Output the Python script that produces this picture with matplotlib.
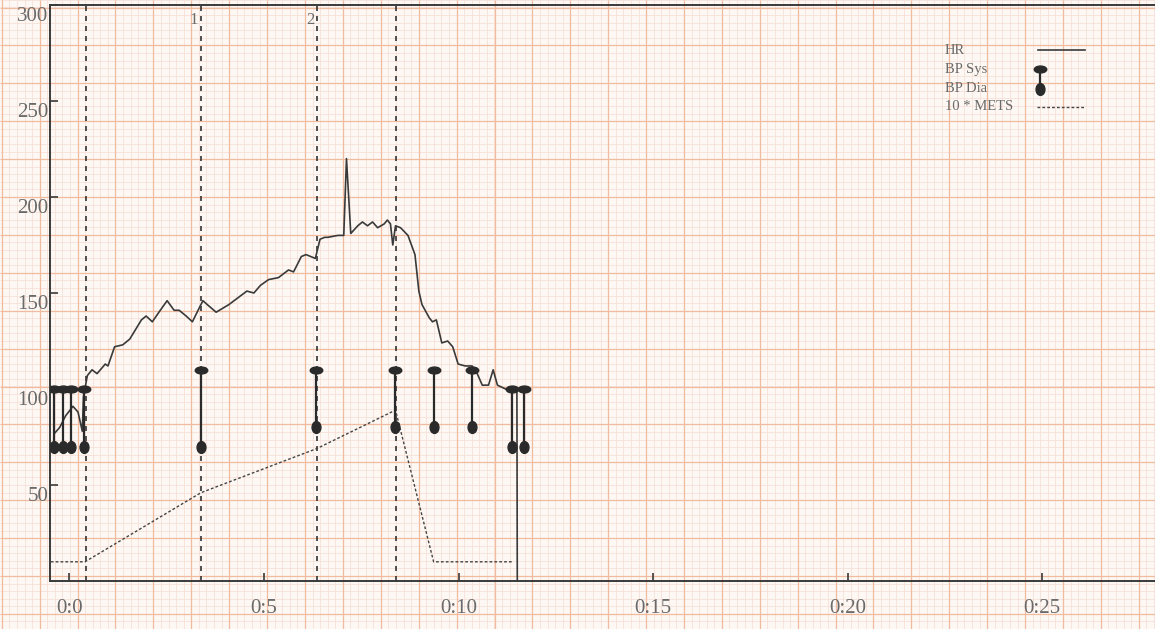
import numpy as np
import matplotlib
matplotlib.use("Agg")
import matplotlib.pyplot as plt
from matplotlib.path import Path
from matplotlib.transforms import Affine2D, ScaledTranslation

# ---------------- data (minutes, values) ----------------
hr_time = [-0.38, -0.25, -0.10, 0.09, 0.22, 0.33, 0.36, 0.46, 0.58, 0.71, 0.92, 0.99,
           1.16, 1.37, 1.55, 1.85, 1.97, 2.13, 2.30, 2.51, 2.69, 2.82, 3.00, 3.16,
           3.33, 3.43, 3.54, 3.77, 4.10, 4.56, 4.74, 4.91, 5.12, 5.37, 5.63, 5.76,
           5.96, 6.08, 6.32, 6.44, 6.56, 6.64, 6.90, 7.05, 7.12, 7.23, 7.41, 7.53,
           7.66, 7.79, 7.92, 8.09, 8.17, 8.25, 8.31, 8.38, 8.51, 8.70, 8.88, 8.98,
           9.06, 9.25, 9.33, 9.43, 9.57, 9.72, 9.85, 9.99, 10.17, 10.35, 10.48, 10.61,
           10.77, 10.89, 11.00, 11.21, 11.34, 11.50, 11.51]
hr_bpm = [77, 80, 86, 91, 88, 78, 96, 107, 110, 108, 113, 112,
          122, 123, 126, 136, 138, 135, 140, 146, 141, 141, 138, 135,
          142, 146, 144, 140, 144, 151, 150, 154, 157, 158, 162, 161,
          169, 170, 168, 178, 179, 179, 180, 180, 220, 181, 185, 187,
          185, 187, 184, 186, 188, 186, 175, 185, 184, 180, 170, 151,
          144, 137, 135, 136, 124, 125, 122, 113, 112, 112, 108, 102,
          102, 110, 102, 100, 99, 99, 0]

bp_time = [-0.40, -0.17, 0.04, 0.37, 3.38, 6.33, 8.36, 9.36, 10.34, 11.38, 11.69]
bp_sys = [100, 100, 100, 100, 110, 110, 110, 110, 110, 100, 100]
bp_dia = [70, 70, 70, 70, 70, 80, 80, 80, 80, 70, 70]

mets_time = [-0.48, 0.40, 3.38, 6.36, 8.38, 9.36, 11.37]
mets_x10 = [10, 10, 46, 69, 89, 10, 10]

stage_time = [0.42, 3.38, 6.36, 8.39]
stage_labels = ["", "1", "2", ""]

x_ticks = [0, 5, 10, 15, 20, 25]
x_tick_labels = ["0:0", "0:5", "0:10", "0:15", "0:20", "0:25"]
y_ticks = [50, 100, 150, 200, 250, 300]
y_tick_labels = ["50", "100", "150", "200", "250", "300"]
legend_labels = ["HR", "BP Sys", "BP Dia", "10 * METS"]

# ---------------- styling ----------------
W, H = 1155, 629
INK = "#333333"
TXT = "#6a6a6a"
SERIF = ["Liberation Serif", "DejaVu Serif"]

fig = plt.figure(figsize=(W / 100, H / 100), dpi=100)
fig.patch.set_facecolor("#fdf8f3")

# ECG paper background
bg = fig.add_axes([0, 0, 1, 1])
bg.set_xlim(0, W)
bg.set_ylim(H, 0)
bg.axis("off")
major = 37.9
minor = major / 5
xs_minor = np.arange(1.8 - major, W + major, minor)
ys_minor = np.arange(7.5 - major, H + major, minor)
bg.vlines(xs_minor, 0, H, color="#f6ded5", lw=0.55)
bg.hlines(ys_minor, 0, W, color="#f6ded5", lw=0.55)
xs_major = np.arange(1.8, W + major, major)
ys_major = np.arange(7.5, H + major, major)
bg.vlines(xs_major, 0, H, color="#f1bba0", lw=0.9)
bg.hlines(ys_major, 0, W, color="#f1bba0", lw=0.9)

# main axes
ax = fig.add_axes([50 / W, 1 - 581 / H, 1 - 50 / W, (581 - 5) / H])
ax.patch.set_alpha(0)
ax.set_xlim(-0.50, 27.9)
ax.set_ylim(0, 300)
for s in ["left", "top", "bottom"]:
    ax.spines[s].set_color("#3a3a3a")
    ax.spines[s].set_linewidth(1.4)
ax.spines["right"].set_visible(False)

ax.set_xticks(x_ticks)
ax.set_xticklabels(x_tick_labels)
ax.set_yticks(y_ticks)
ax.set_yticklabels(y_tick_labels)
ax.tick_params(axis="both", direction="in", length=6, width=1.2, color="#3a3a3a",
               labelcolor=TXT, labelsize=15)
ax.tick_params(axis="x", pad=13)
ax.tick_params(axis="y", pad=1)
off = ScaledTranslation(0, -9 / 100, fig.dpi_scale_trans)
for lab in ax.get_yticklabels() + ax.get_xticklabels():
    lab.set_fontfamily(SERIF)
for lab in ax.get_yticklabels():
    lab.set_transform(lab.get_transform() + off)

# stage markers
for t, lab in zip(stage_time, stage_labels):
    ax.axvline(t, color=INK, ls=(0, (3, 3)), lw=1.2, zorder=2)
    if lab:
        ax.annotate(lab, xy=(t, 300), xytext=(-2, -5), textcoords="offset points",
                    ha="right", va="top", fontsize=12, color=TXT, family=SERIF)

# METS
ax.plot(mets_time, mets_x10, color="#444444", ls=(0, (2, 1.5)), lw=1.0, zorder=3)

# HR
ax.plot(hr_time, hr_bpm, color="#3a3a3a", lw=1.2, zorder=4)

# BP
circ = Path.unit_circle()
sys_marker = Affine2D().scale(1.0, 0.55).transform_path(circ)
dia_marker = Affine2D().scale(0.75, 1.0).transform_path(circ)
ax.vlines(bp_time, bp_dia, bp_sys, color="#2a2a2a", lw=1.6, zorder=5)
ax.plot(bp_time, bp_sys, ls="none", marker=sys_marker, ms=9, color="#2a2a2a", zorder=6)
ax.plot(bp_time, bp_dia, ls="none", marker=dia_marker, ms=8.5, color="#2a2a2a", zorder=6)

# legend (manual, top right)
lg = fig.add_axes([0, 0, 1, 1])
lg.set_xlim(0, W)
lg.set_ylim(H, 0)
lg.axis("off")
ly = [50, 69, 89, 107]
for y, lab in zip(ly, legend_labels):
    lg.text(945, y, lab, fontsize=10.5, color=TXT, family=SERIF, va="center", ha="left")
lg.plot([1038, 1085], [ly[0], ly[0]], color="#3a3a3a", lw=1.2)
lg.plot([1040, 1040], [ly[1], ly[2]], color="#2a2a2a", lw=1.6)
lg.plot([1040], [ly[1]], marker=sys_marker, ms=9, color="#2a2a2a")
lg.plot([1040], [ly[2]], marker=dia_marker, ms=8.5, color="#2a2a2a")
lg.plot([1037, 1084], [ly[3], ly[3]], color="#444444", ls=(0, (2, 1.5)), lw=1.0)

fig.savefig("out.png", dpi=100, facecolor=fig.get_facecolor())
